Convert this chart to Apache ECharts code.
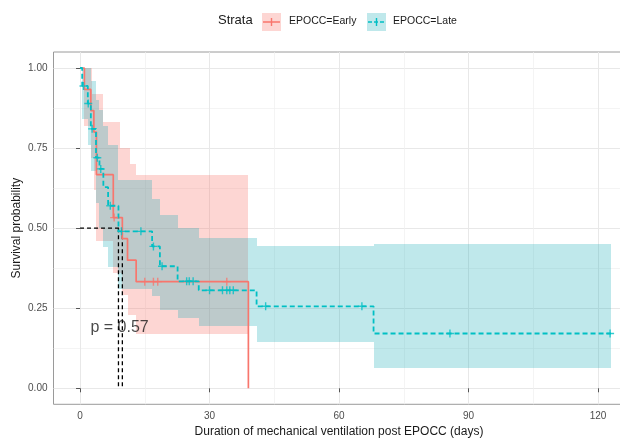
<!DOCTYPE html>
<html lang="en">
<head>
<meta charset="UTF-8">
<title>Survival by EPOCC</title>
<script src="https://cdn.jsdelivr.net/npm/echarts@6/dist/echarts.min.js"></script>
<style>
  html, body { margin: 0; padding: 0; background: #fff; }
  #main { width: 620px; height: 438px; }
</style>
</head>
<body>
<div id="main"></div>
<script>
// Early group (red): curve steps, confidence band steps, censor marks
var earlyTime  = [0, 1, 2.5, 3.2, 3.8, 7.7, 9.8, 11, 13, 39];
var earlySurv  = [1, 0.933, 0.867, 0.8, 0.667, 0.533, 0.467, 0.4, 0.333, 0];
var earlyUpperTime = [0, 2.7, 5.4, 9.3, 11.6, 13, 39];
var earlyUpper     = [1, 0.92, 0.83, 0.75, 0.7, 0.667];
var earlyLowerTime = [0, 1, 2.5, 3.2, 3.8, 7.7, 9.8, 11, 13, 39];
var earlyLower     = [1, 0.82, 0.72, 0.62, 0.46, 0.36, 0.29, 0.23, 0.168];
var earlyCensorTime = [7.9, 15, 17, 18, 34];
var earlyCensorSurv = [0.533, 0.333, 0.333, 0.333, 0.333];

// Late group (teal)
var lateTime  = [0, 0.5, 1.8, 2.5, 3.7, 4.5, 5.4, 6.5, 8.9, 16.7, 18.5, 22.6, 27.5, 40.9, 68, 123];
var lateSurv  = [1, 0.944, 0.889, 0.81, 0.72, 0.685, 0.628, 0.57, 0.49, 0.443, 0.381, 0.334, 0.306, 0.256, 0.171, 0.171];
var lateUpper = [1, 1, 1, 0.96, 0.9, 0.87, 0.82, 0.76, 0.65, 0.59, 0.54, 0.5, 0.468, 0.443, 0.449];
var lateLower = [1, 0.84, 0.76, 0.68, 0.58, 0.5, 0.44, 0.38, 0.31, 0.287, 0.245, 0.22, 0.195, 0.145, 0.064];
var lateCensorTime = [0.8, 1.9, 2.8, 4, 4.8, 7, 9.6, 14.1, 17, 19, 24.7, 25.3, 26.2, 30, 33, 34, 34.7, 35.5, 43, 65.3, 85.7, 122.8];
var lateCensorSurv = [0.944, 0.889, 0.81, 0.72, 0.685, 0.57, 0.49, 0.49, 0.443, 0.381, 0.334, 0.334, 0.334, 0.306, 0.306, 0.306, 0.306, 0.306, 0.256, 0.256, 0.171, 0.171];

// median survival (late, early) and p-value
var medianTime = [8.9, 9.8];
var medianSurv = 0.5;
var pvalText = 'p = 0.57';
var pvalCoord = [2.4, 0.19];

var xTicks = [0, 30, 60, 90, 120];
var xMinor = [15, 45, 75, 105];
var yTicks = [0, 0.25, 0.5, 0.75, 1];
var yMinor = [0.125, 0.375, 0.625, 0.875];

var RED = '#F8766D', TEAL = '#00BFC4';
var PINK_FILL = 'rgba(248,118,109,0.3)', TEAL_FILL = 'rgba(20,170,180,0.27)';
var FONT = 'Liberation Sans, Arial, sans-serif';
var plus = 'path://M-0.7,-4 L0.7,-4 L0.7,-0.7 L4,-0.7 L4,0.7 L0.7,0.7 L0.7,4 L-0.7,4 L-0.7,0.7 L-4,0.7 L-4,-0.7 L-0.7,-0.7 Z';

function zip(a, b) {
    var out = [];
    for (var i = 0; i < a.length; i++) out.push([a[i], b[i]]);
    return out;
}
// step value of a band at time t
function stepAt(time, vals, t) {
    var v = vals[0];
    for (var i = 0; i < vals.length; i++) if (time[i] <= t) v = vals[i];
    return v;
}
// merge upper and lower breakpoints into rows [t0, t1, lo, hi]
function bandRows(upTime, up, loTime, lo) {
    var ts = upTime.concat(loTime).filter(function (t, i, a) { return a.indexOf(t) === i; });
    ts.sort(function (a, b) { return a - b; });
    var rows = [];
    for (var i = 0; i < ts.length - 1; i++) {
        rows.push([ts[i], ts[i + 1], stepAt(loTime, lo, ts[i]), stepAt(upTime, up, ts[i])]);
    }
    return rows;
}
function bandSeries(rows, fill) {
    return {
        type: 'custom',
        data: rows,
        encode: { x: [0, 1], y: [2, 3] },
        silent: true,
        z: 1,
        renderItem: function (params, api) {
            var a = api.coord([api.value(0), api.value(3)]);
            var b = api.coord([api.value(1), api.value(2)]);
            var x0 = Math.round(a[0]), x1 = Math.round(b[0]);
            var y0 = Math.round(a[1]), y1 = Math.round(b[1]);
            return { type: 'rect', shape: { x: x0, y: y0, width: x1 - x0, height: y1 - y0 }, style: { fill: fill } };
        }
    };
}
function dashSeg(data) {
    return {
        type: 'line', data: data, symbol: 'none', z: 3, silent: true,
        lineStyle: { color: '#000', width: 1.3, type: [4, 3] }
    };
}

var medianSeries = [dashSeg([[0, medianSurv], [Math.max.apply(null, medianTime), medianSurv]])];
medianTime.forEach(function (t) { medianSeries.push(dashSeg([[t, medianSurv], [t, 0]])); });

var axisCommon = {
    type: 'value',
    axisLine: { show: false },
    nameMoveOverlap: false,
    axisLabel: { color: '#4d4d4d', fontSize: 10, fontFamily: FONT },
    nameTextStyle: { color: '#1a1a1a', fontSize: 12, fontFamily: FONT }
};

var option = {
    animation: false,
    backgroundColor: '#fff',
    grid: {
        left: 53.5, right: -17.5, top: 52, bottom: 33.7,
        outerBoundsMode: 'none', containLabel: false,
        show: true, borderColor: '#9a9a9a', borderWidth: 1, backgroundColor: '#fff'
    },
    xAxis: [
        echarts.util.merge({
            min: -6.15, max: 129.15,
            axisTick: { show: true, length: 4, customValues: xTicks, lineStyle: { color: '#555' } },
            axisLabel: { customValues: xTicks, margin: 7 },
            splitLine: { show: true, lineStyle: { color: '#e8e8e8', width: 1 } },
            name: 'Duration of mechanical ventilation post EPOCC (days)',
            nameLocation: 'middle', nameGap: 21,
            nameTextStyle: { padding: [0, 13, 0, 0] }
        }, axisCommon, false),
        {
            type: 'value', min: -6.15, max: 129.15,
            axisLine: { show: false },
            axisTick: { show: false, customValues: xMinor },
            axisLabel: { show: false, customValues: xMinor },
            splitLine: { show: true, lineStyle: { color: '#efefef', width: 0.7 } }
        }
    ],
    yAxis: [
        echarts.util.merge({
            min: -0.05, max: 1.05,
            axisTick: { show: true, length: 4, customValues: yTicks, lineStyle: { color: '#555' } },
            axisLabel: { customValues: yTicks, margin: 6, formatter: function (v) { return v.toFixed(2); } },
            splitLine: { show: true, lineStyle: { color: '#e8e8e8', width: 1 } },
            name: 'Survival probability',
            nameLocation: 'middle', nameGap: 31
        }, axisCommon, false),
        {
            type: 'value', min: -0.05, max: 1.05,
            axisLine: { show: false },
            axisTick: { show: false, customValues: yMinor },
            axisLabel: { show: false, customValues: yMinor },
            splitLine: { show: true, lineStyle: { color: '#efefef', width: 0.7 } }
        }
    ],
    graphic: [
        { type: 'text', left: 218, top: 14, style: { text: 'Strata', fontSize: 13, fontFamily: FONT, fill: '#1a1a1a' } },
        { type: 'rect', shape: { x: 262, y: 13, width: 19, height: 18 }, style: { fill: PINK_FILL } },
        { type: 'line', shape: { x1: 263, y1: 22, x2: 280, y2: 22 }, style: { stroke: RED, lineWidth: 1.5 } },
        { type: 'line', shape: { x1: 271.5, y1: 18, x2: 271.5, y2: 26 }, style: { stroke: RED, lineWidth: 1.4 } },
        { type: 'text', left: 289, top: 16, style: { text: 'EPOCC=Early', fontSize: 10.5, fontFamily: FONT, fill: '#1a1a1a' } },
        { type: 'rect', shape: { x: 367, y: 13, width: 19, height: 18 }, style: { fill: TEAL_FILL } },
        { type: 'line', shape: { x1: 368, y1: 22, x2: 385, y2: 22 }, style: { stroke: TEAL, lineWidth: 1.5, lineDash: [4, 2] } },
        { type: 'line', shape: { x1: 376.5, y1: 18, x2: 376.5, y2: 26 }, style: { stroke: TEAL, lineWidth: 1.4 } },
        { type: 'text', left: 393, top: 16, style: { text: 'EPOCC=Late', fontSize: 10.5, fontFamily: FONT, fill: '#1a1a1a' } }
    ],
    series: [
        bandSeries(bandRows(earlyUpperTime, earlyUpper, earlyLowerTime, earlyLower), PINK_FILL),
        bandSeries(bandRows(lateTime, lateUpper, lateTime, lateLower), TEAL_FILL)
    ].concat(medianSeries).concat([
        {
            name: 'EPOCC=Early', type: 'line', step: 'end', symbol: 'none', z: 4,
            data: zip(earlyTime, earlySurv),
            lineStyle: { color: RED, width: 1.7 }
        },
        {
            name: 'EPOCC=Late', type: 'line', step: 'end', symbol: 'none', z: 4,
            data: zip(lateTime, lateSurv),
            lineStyle: { color: TEAL, width: 1.8, type: [5, 3] }
        },
        {
            type: 'scatter', symbol: plus, symbolSize: 8, z: 5,
            data: zip(earlyCensorTime, earlyCensorSurv),
            itemStyle: { color: RED }
        },
        {
            type: 'scatter', symbol: plus, symbolSize: 8, z: 5,
            data: zip(lateCensorTime, lateCensorSurv),
            itemStyle: { color: TEAL }
        },
        {
            type: 'scatter', symbolSize: 0, z: 6, silent: true,
            data: [pvalCoord],
            label: { show: true, position: 'inside', align: 'left', verticalAlign: 'middle', formatter: pvalText, fontSize: 16, fontFamily: FONT, color: '#1a1a1a' }
        }
    ])
};

var chart = echarts.init(document.getElementById('main'), null, { renderer: 'canvas' });
chart.setOption(option);
</script>
</body>
</html>
